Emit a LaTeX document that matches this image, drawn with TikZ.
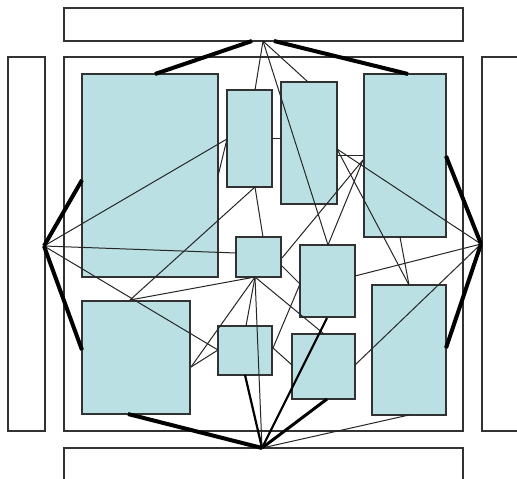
\documentclass[tikz,border=0pt]{standalone}
\begin{document}
\definecolor{blkfill}{RGB}{186,224,228}
\definecolor{edgegray}{RGB}{50,50,50}
\begin{tikzpicture}[x=1pt,y=-1pt,
  frame/.style={draw=edgegray,line width=1.2pt,fill=white,inner sep=0pt,outer sep=0pt},
  blk/.style={draw=edgegray,line width=1.2pt,fill=blkfill,inner sep=0pt,outer sep=0pt},
  wire/.style={draw=black!85,line width=1pt},
  midwire/.style={draw=black,line width=2.2pt},
  fatwire/.style={draw=black,line width=4pt}]
\useasboundingbox (0,0) rectangle (517,479);
\clip (0,0) rectangle (517,479);
% frames
\node[frame,minimum width=399,minimum height=33] (topbar) at (263.5,24.5) {};
\node[frame,minimum width=37,minimum height=374] (leftbar) at (26.5,244) {};
\node[frame,minimum width=58,minimum height=374] (rightbar) at (511,244) {};
\node[frame,minimum width=399,minimum height=52] (botbar) at (263.5,474) {};
\node[frame,minimum width=399,minimum height=374] (main) at (263.5,244) {};
% blocks
\node[blk,minimum width=136,minimum height=203] (A) at (150,175.5) {};
\node[blk,minimum width=45,minimum height=97] (B) at (249.5,138.5) {};
\node[blk,minimum width=56,minimum height=122] (C) at (309,143) {};
\node[blk,minimum width=82,minimum height=163] (D) at (405,155.5) {};
\node[blk,minimum width=45,minimum height=40] (E) at (258.5,257) {};
\node[blk,minimum width=55,minimum height=72] (F) at (327.5,281) {};
\node[blk,minimum width=108,minimum height=113] (G) at (136,357.5) {};
\node[blk,minimum width=54,minimum height=49] (H) at (245,350.5) {};
\node[blk,minimum width=63,minimum height=65] (I) at (323.5,366.5) {};
\node[blk,minimum width=74,minimum height=130] (J) at (409,350) {};
% hubs
\coordinate (T1) at (252,41);
\coordinate (T2) at (274,41);
\coordinate (T) at (263,41);
\coordinate (L) at (44,246);
\coordinate (R) at (481,244);
\coordinate (Bt) at (262,448);
% pins
\coordinate (Atop) at (155,74);
\coordinate (Ale) at (82,180);
\coordinate (Ari) at (218,176);
\coordinate (Btop) at (255,90);
\coordinate (Ble) at (227,139);
\coordinate (Bri) at (272,138);
\coordinate (Bbo) at (255,187);
\coordinate (Ctop) at (308,82);
\coordinate (Cle) at (281,138);
\coordinate (Cr) at (337,149);
\coordinate (Cr2) at (337,155);
\coordinate (Dle) at (364,155);
\coordinate (Dtop) at (408,74);
\coordinate (Dri) at (446,156);
\coordinate (Dp) at (363,160);
\coordinate (Dbo) at (400,237);
\coordinate (Etop) at (263,237);
\coordinate (Ele) at (236,253);
\coordinate (Eri) at (282,258);
\coordinate (Eri2) at (282,266);
\coordinate (Ebo) at (255,277);
\coordinate (Ftop) at (328,245);
\coordinate (Fle) at (300,284);
\coordinate (Fri) at (355,276);
\coordinate (Fbo) at (327,318);
\coordinate (Gtop) at (130,300);
\coordinate (Gle) at (82,350);
\coordinate (Gri) at (191,367);
\coordinate (Gbo) at (128,414);
\coordinate (Htop) at (246,326);
\coordinate (Hle) at (218,350);
\coordinate (Hri) at (273,348);
\coordinate (Hbo) at (245,375);
\coordinate (Itop) at (324,334);
\coordinate (Ile) at (292,365);
\coordinate (Iri) at (355,365);
\coordinate (Ibo) at (327,399);
\coordinate (Jtop) at (409,285);
\coordinate (Jri) at (446,348);
\coordinate (Jbo) at (409,415);
% thin wires
\draw[wire] (T) -- (Btop);
\draw[wire] (T) -- (Ctop);
\draw[wire] (T) -- (Ftop);
\draw[wire] (L) -- (Ble);
\draw[wire] (L) -- (Ele);
\draw[wire] (L) -- (Hle);
\draw[wire] (Ble) -- (Ari);
\draw[wire] (Bri) -- (Cle);
\draw[wire] (Bbo) -- (Etop);
\draw[wire] (Bbo) -- (Gtop);
\draw[wire] (Gtop) -- (Ebo);
\draw[wire] (Ebo) -- (Gri);
\draw[wire] (Gri) -- (Hle);
\draw[wire] (Ebo) -- (Htop);
\draw[wire] (Ebo) -- (Bt);
\draw[wire] (Ebo) -- (Itop);
\draw[wire] (Eri) -- (Dp);
\draw[wire] (Dp) -- (Ftop);
\draw[wire] (Eri2) -- (Fle);
\draw[wire] (Fle) -- (Hri);
\draw[wire] (Hri) -- (Ile);
\draw[wire] (Cr) -- (R);
\draw[wire] (Cr2) -- (Dle);
\draw[wire] (Cr) -- (Jtop);
\draw[wire] (Dbo) -- (Jtop);
\draw[wire] (R) -- (Fri);
\draw[wire] (R) -- (Iri);
\draw[wire] (Bt) -- (Jbo);
% medium wires
\draw[midwire] (Bt) -- (Fbo);
\draw[midwire] (Bt) -- (Hbo);
\draw[midwire,line width=3pt] (Bt) -- (Ibo);
% thick wires
\draw[fatwire] (T1) -- (Atop);
\draw[fatwire] (T2) -- (Dtop);
\draw[fatwire] (L) -- (Ale);
\draw[fatwire] (L) -- (Gle);
\draw[fatwire] (R) -- (Dri);
\draw[fatwire] (R) -- (Jri);
\draw[fatwire] (Bt) -- (Gbo);
\end{tikzpicture}
\end{document}
